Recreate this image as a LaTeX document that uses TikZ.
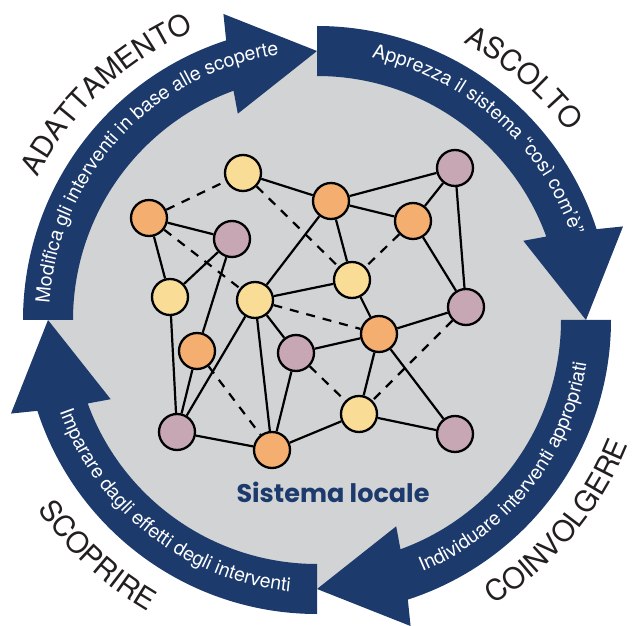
\documentclass[tikz,border=0pt]{standalone}
\usepackage{fontspec}
\setsansfont{TeX Gyre Heros}
\newfontfamily\sistfont{Poppins}
\usetikzlibrary{decorations.text}
\definecolor{bandblue}{RGB}{28,58,108}
\definecolor{diskgrey}{RGB}{209,211,212}
\definecolor{labeltext}{RGB}{35,31,32}
\definecolor{fillorange}{RGB}{244,174,111}
\definecolor{fillyellow}{RGB}{249,220,150}
\definecolor{fillmauve}{RGB}{198,167,179}
\begin{document}
\begin{tikzpicture}[x=1pt,y=1pt,
    netnode/.style={circle,draw=black,line width=2.3pt,minimum size=36pt,inner sep=0pt},
    onode/.style={netnode,fill=fillorange},
    ynode/.style={netnode,fill=fillyellow},
    pnode/.style={netnode,fill=fillmauve},
    link/.style={line width=2.2pt},
    weaklink/.style={link,dash pattern=on 9pt off 8pt},
    outerlabel/.style={decorate,decoration={text along path,text align=center,text color=labeltext,
        text={|\sffamily\fontsize{29}{29}\selectfont|#1}}},
    bandlabel/.style={decorate,decoration={text along path,text align=center,text color=white,
        text={|\sffamily\fontsize{19.5}{19.5}\selectfont|#1}}}]
    \useasboundingbox (0,0) rectangle (635,625);
    \begin{scope}[shift={(317,305)}]
        \fill[diskgrey] (0,0) circle (268);
        \foreach \s in {180,90,0,-90}
            \fill[bandblue] (\s:294) arc[start angle=\s,end angle=\s-72,radius=294]
                -- ({\s-73}:320) -- ({\s-90}:269) -- ({\s-69}:221) -- ({\s-70}:244)
                arc[start angle=\s-70,end angle=\s,radius=244] -- cycle;
        \path[outerlabel=ADATTAMENTO] (173:314) arc[start angle=173,end angle=93,radius=314];
        \path[outerlabel=ASCOLTO] (89.5:314) arc[start angle=89.5,end angle=9.5,radius=314];
        \path[outerlabel=COINVOLGERE] (-80:335) arc[start angle=-80,end angle=0,radius=335];
        \path[outerlabel=SCOPRIRE] (187:337) arc[start angle=187,end angle=267,radius=337];
        \path[bandlabel=Modifica gli interventi in base alle scoperte] (187.3:268) arc[start angle=187.3,end angle=87.3,radius=268];
        \path[bandlabel=Apprezza il sistema “così com’è”] (98.25:268) arc[start angle=98.25,end angle=-1.75,radius=268];
        \path[bandlabel=Individuare interventi appropriati] (-88.2:273) arc[start angle=-88.2,end angle=11.8,radius=273];
        \path[bandlabel=Imparare dagli effetti degli interventi] (181.9:273) arc[start angle=181.9,end angle=281.9,radius=273];
    \end{scope}

    \node[ynode] (y1) at (243,452) {};
    \node[onode] (o1) at (149,407) {};
    \node[pnode] (p1) at (232,386) {};
    \node[ynode] (y2) at (170,328) {};
    \node[ynode] (y3) at (255,325) {};
    \node[onode] (o2) at (331,424) {};
    \node[pnode] (p2) at (455,457) {};
    \node[onode] (o3) at (413,404) {};
    \node[ynode] (y4) at (352,345) {};
    \node[pnode] (p3) at (466,318) {};
    \node[onode] (o6) at (379,291) {};
    \node[onode] (o4) at (197,274) {};
    \node[pnode] (p4) at (296,272) {};
    \node[pnode] (p5) at (177,193) {};
    \node[onode] (o5) at (272,175) {};
    \node[ynode] (y5) at (359,211) {};
    \node[pnode] (p6) at (455,191) {};

    \draw[link] (y1) -- (o2);
    \draw[link] (o1) -- (p1);
    \draw[link] (o1) -- (y2);
    \draw[link] (p1) -- (y2);
    \draw[link] (p1) -- (o4);
    \draw[link] (o2) -- (p2);
    \draw[link] (o2) -- (o3);
    \draw[link] (o3) -- (p2);
    \draw[link] (o2) -- (y4);
    \draw[link] (o2) -- (y3);
    \draw[link] (p2) -- (p3);
    \draw[link] (o3) -- (p3);
    \draw[link] (y3) -- (y4);
    \draw[link] (y4) -- (o6);
    \draw[link] (y3) -- (p4);
    \draw[link] (y3) -- (p5);
    \draw[link] (y3) -- (o5);
    \draw[link] (y2) -- (p5);
    \draw[link] (o4) -- (p5);
    \draw[link] (p4) -- (o5);
    \draw[link] (p4) -- (o6);
    \draw[link] (o6) -- (p3);
    \draw[link] (o6) -- (y5);
    \draw[link] (o6) -- (p6);
    \draw[link] (y5) -- (p6);
    \draw[link] (y5) -- (o5);
    \draw[link] (p5) -- (o5);
    \draw[weaklink] (o1) -- (y1);
    \draw[weaklink] (o1) -- (y3);
    \draw[weaklink] (y1) -- (y4);
    \draw[weaklink] (o3) -- (y4);
    \draw[weaklink] (y3) -- (o6);
    \draw[weaklink] (o4) -- (o5);
    \draw[weaklink] (p4) -- (y5);
    \draw[weaklink] (p3) -- (y5);

    \node[font=\sistfont\bfseries\fontsize{25.5}{25.5}\selectfont,text=bandblue,anchor=base] (title) at (333,123) {Sistema locale};
\end{tikzpicture}
\end{document}
